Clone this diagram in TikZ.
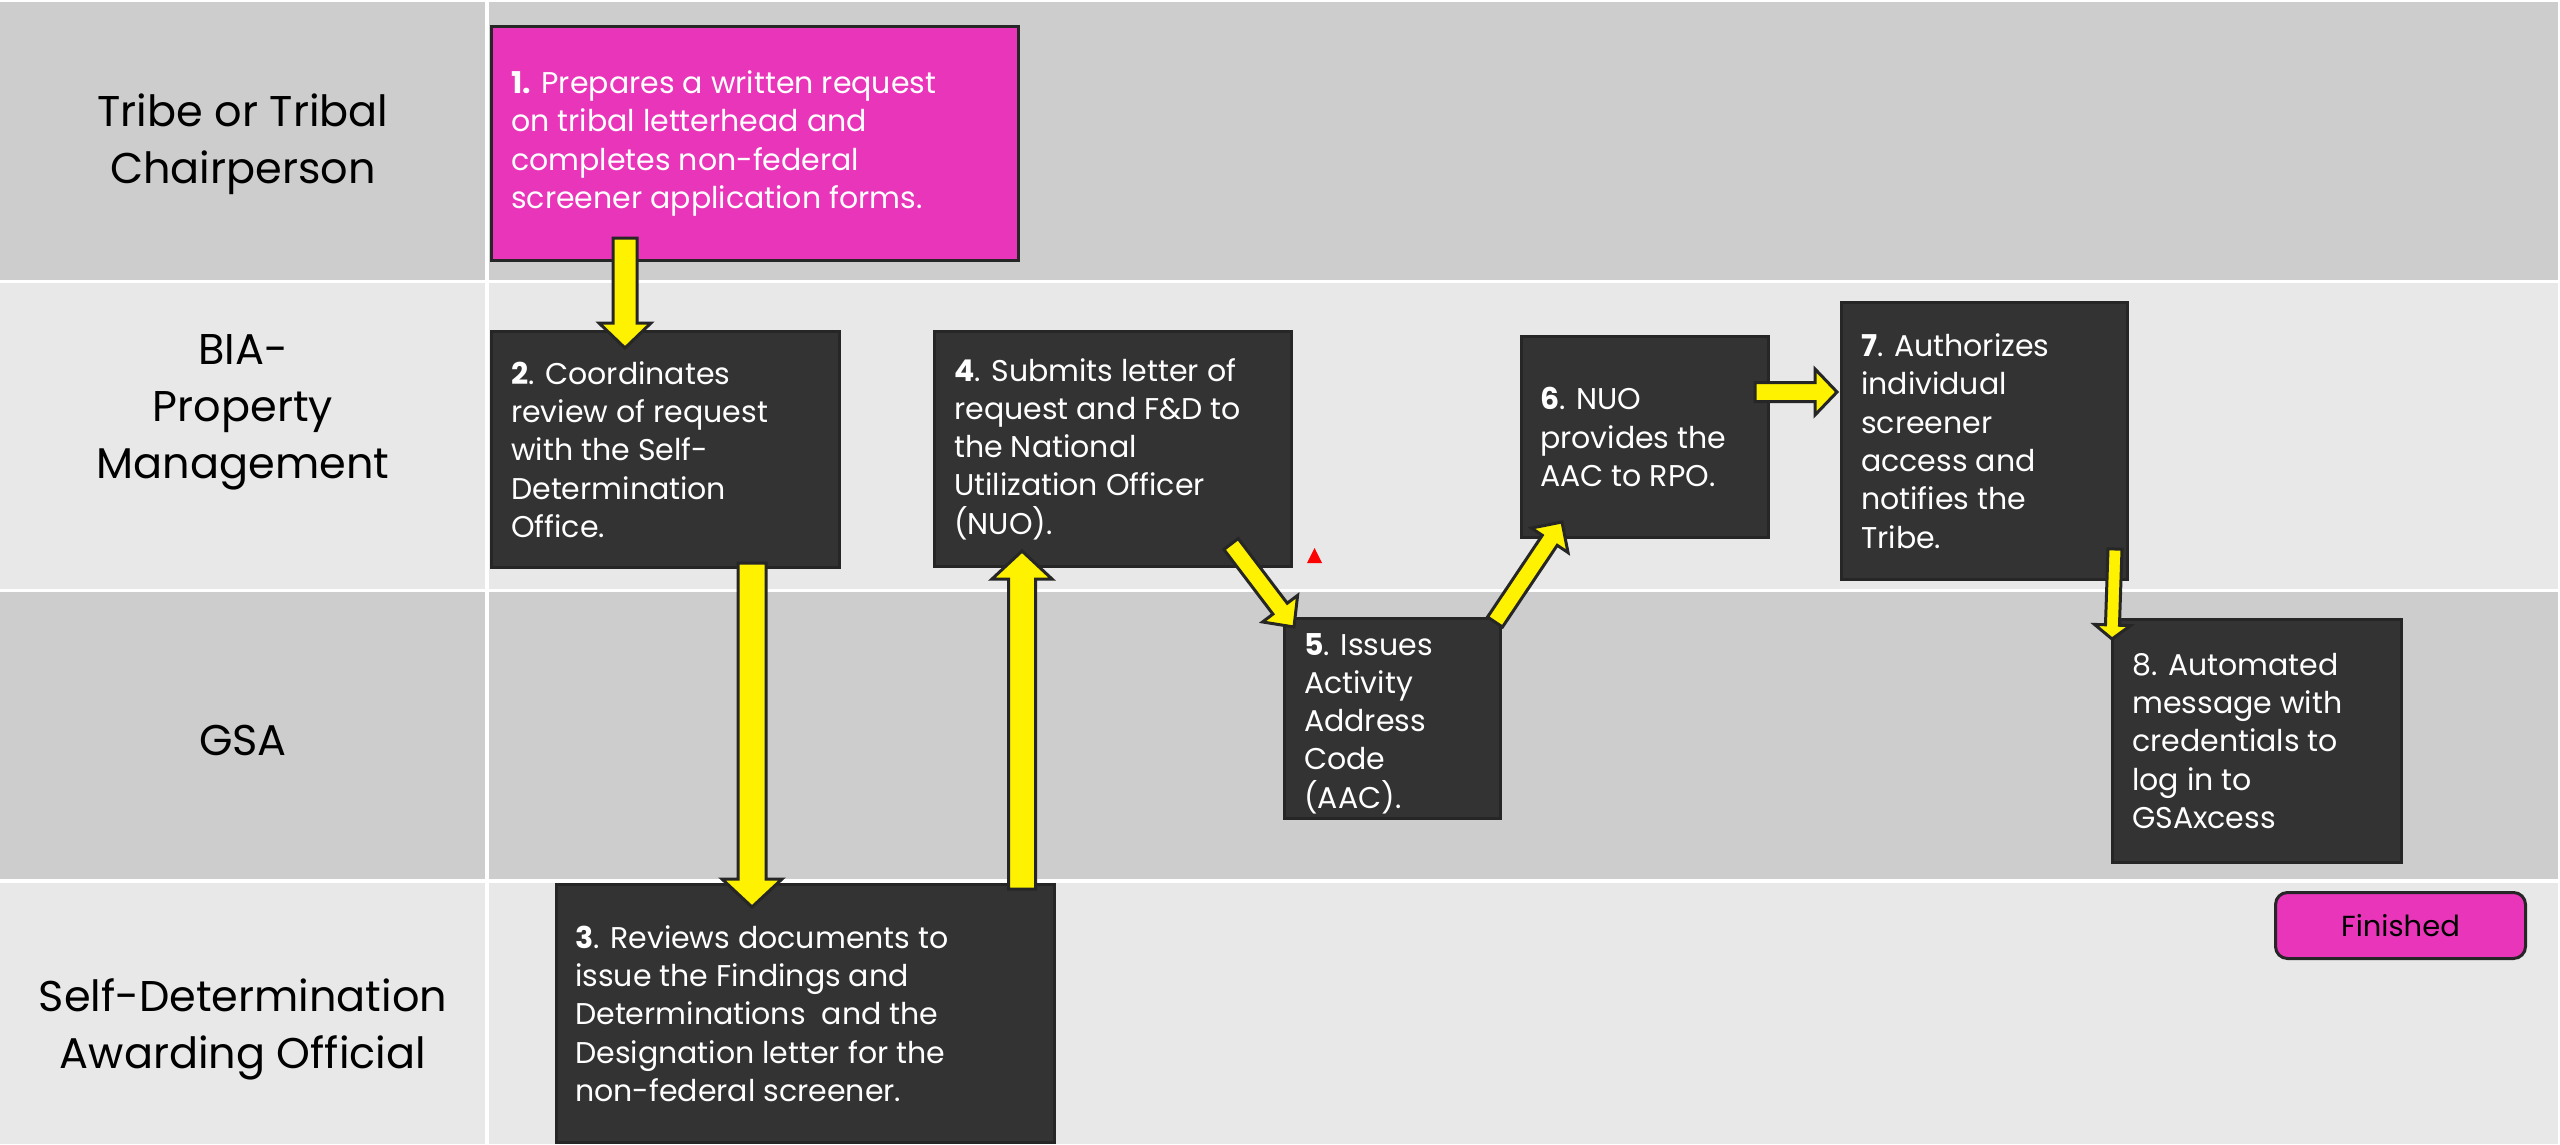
\documentclass[tikz,border=0pt]{standalone}
\usepackage{fontspec}
\setmainfont{Poppins}
\usetikzlibrary{calc}
\definecolor{lanedark}{HTML}{CDCDCD}
\definecolor{lanelight}{HTML}{E8E8E8}
\definecolor{boxfill}{HTML}{333333}
\definecolor{boxline}{HTML}{262626}
\definecolor{magentabox}{HTML}{E935BA}
\definecolor{arrowline}{HTML}{262626}
\tikzset{
  lanelabel/.style={font=\fontsize{43}{57}\selectfont, align=center, text=black, inner sep=0pt},
  stepbox/.style={draw=boxline, line width=3pt, fill=boxfill, anchor=north west, inner sep=0pt},
  magbox/.style={stepbox, fill=magentabox},
  boxtext/.style={anchor=west, align=left, text=white, inner sep=0pt, font=\fontsize{30}{38.3}\selectfont},
  blockarr/.style={draw=arrowline, fill=yellow, line width=3pt, line join=miter},
}
% #1 start, #2 tip, #3 half shaft, #4 half head, #5 head length (pt)
\newcommand\blockarrow[5]{%
  \draw[blockarr] let \p1=($(#2)-(#1)$), \n1={atan2(\y1,\x1)}, \n2={veclen(\x1,\y1)-#5} in
    ($(#1)+(\n1+90:#3pt)$) -- ++(\n1:\n2) -- ++(\n1+90:#4pt-#3pt) -- (#2)
    -- ($(#1)+(\n1:\n2)+(\n1-90:#4pt)$) -- ++(\n1+90:#4pt-#3pt) -- ++(\n1+180:\n2) -- cycle;}
\begin{document}
\begin{tikzpicture}[x=1pt,y=-1pt]
\useasboundingbox (0,0) rectangle (2560,1144);
\fill[white] (0,0) rectangle (2560,1144);
% lanes
\fill[lanedark]  (0,2) rectangle (485,280);
\fill[lanedark]  (489,2) rectangle (2558,280);
\fill[lanelight] (0,283) rectangle (485,589);
\fill[lanelight] (489,283) rectangle (2558,589);
\fill[lanedark]  (0,592) rectangle (485,879);
\fill[lanedark]  (489,592) rectangle (2558,879);
\fill[lanelight] (0,883) rectangle (485,1144);
\fill[lanelight] (489,883) rectangle (2558,1144);
% lane labels
\node[lanelabel] (l1) at (243,144) {Tribe or Tribal\\Chairperson};
\node[lanelabel] (l2) at (243,412) {BIA-\\Property\\Management};
\node[lanelabel] (l3) at (243,740) {GSA};
\node[lanelabel] (l4) at (243,1029) {Self-Determination\\Awarding Official};
% boxes
\node[magbox, minimum width=527pt, minimum height=234pt] (b1) at (490,25) {};
\node[stepbox, minimum width=348pt, minimum height=236pt] (b2) at (490,330) {};
\node[stepbox, minimum width=357pt, minimum height=235pt] (b4) at (933,330) {};
\node[stepbox, minimum width=247pt, minimum height=201pt] (b6) at (1520,335) {};
\node[stepbox, minimum width=286pt, minimum height=277pt] (b7) at (1840,301) {};
\node[stepbox, minimum width=216pt, minimum height=200pt] (b5) at (1283,617) {};
\node[stepbox, minimum width=289pt, minimum height=243pt] (b8) at (2111,618) {};
\node[stepbox, minimum width=498pt, minimum height=258pt] (b3) at (555,883) {};
\node[magbox, rounded corners=12pt, minimum width=250pt, minimum height=66pt, text=black,
      font=\fontsize{29}{38}\selectfont] (fin) at (2274,891) {Finished};
% box texts
\node[boxtext] (t1) at ($(b1.west)+(21,0)$) {\textbf{1.} Prepares a written request\\on tribal letterhead and\\completes non-federal\\screener application forms.};
\node[boxtext] (t2) at ($(b2.west)+(21,0)$) {\textbf{2}. Coordinates\\review of request\\with the Self-\\Determination\\Office.};
\node[boxtext] (t4) at ($(b4.west)+(21,0)$) {\textbf{4}. Submits letter of\\request and F\&D to\\the National\\Utilization Officer\\(NUO).};
\node[boxtext] (t6) at ($(b6.west)+(20,0)$) {\textbf{6}. NUO\\provides the\\AAC to RPO.};
\node[boxtext] (t7) at ($(b7.west)+(21,0)$) {\textbf{7}. Authorizes\\individual\\screener\\access and\\notifies the\\Tribe.};
\node[boxtext] (t5) at ($(b5.west)+(21,5)$) {\textbf{5}. Issues\\Activity\\Address\\Code\\(AAC).};
\node[boxtext] (t8) at ($(b8.west)+(21,0)$) {8. Automated\\message with\\credentials to\\log in to\\GSAxcess};
\node[boxtext] (t3) at ($(b3.west)+(20,0)$) {\textbf{3}. Reviews documents to\\issue the Findings and\\Determinations\ \ and the\\Designation letter for the\\non-federal screener.};
% arrow end points
\coordinate (a12s) at ($(b1.south west)+(135,-24)$);
\coordinate (a12e) at ($(b2.north west)+(135,18)$);
\coordinate (a23s) at ($(b2.south west)+(262,-6)$);
\coordinate (a23e) at ($(b3.north west)+(197,24)$);
\coordinate (a34s) at ($(b3.north west)+(467,6)$);
\coordinate (a34e) at ($(b4.south west)+(89,-17)$);
\coordinate (a45s) at ($(b4.south east)+(-62,-24)$);
\coordinate (a45e) at ($(b5.north west)+(11,10)$);
\coordinate (a56s) at ($(b5.north east)+(-7,5)$);
\coordinate (a56e) at ($(b6.south west)+(42,-17)$);
\coordinate (a67s) at ($(b6.north east)+(-15,57)$);
\coordinate (a67e) at ($(b7.north west)+(-3,91)$);
\coordinate (a78s) at ($(b7.south east)+(-14,-32)$);
\coordinate (a78e) at ($(b8.north west)+(1,21)$);
% arrows
\blockarrow{a12s}{a12e}{12}{26}{25}
\blockarrow{a23s}{a23e}{14}{30}{28}
\blockarrow{a34s}{a34e}{13.5}{30}{28}
\blockarrow{a45s}{a45e}{9}{22}{23}
\blockarrow{a56s}{a56e}{9}{22}{22}
\blockarrow{a67s}{a67e}{9.5}{23}{22}
\blockarrow{a78s}{a78e}{7}{18}{14}
% small red marker
\fill[red] (1307,563) -- (1314.5,548) -- (1322,563) -- cycle;
\end{tikzpicture}
\end{document}
